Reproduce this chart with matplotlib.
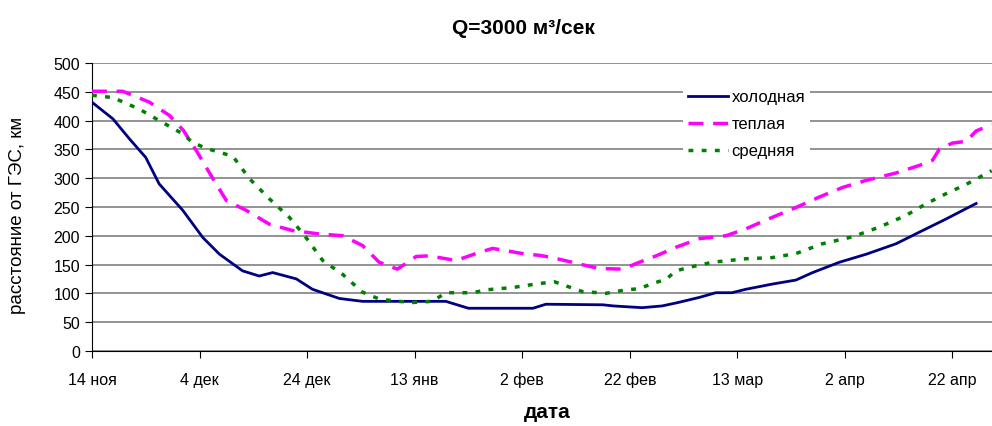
import numpy as np
import matplotlib
matplotlib.use("Agg")
import matplotlib.pyplot as plt

plt.rcParams['font.family'] = ['Liberation Sans', 'DejaVu Sans']

# дни от 14 ноября
tick_days = [0, 20, 40, 60, 80, 100, 120, 140, 160]
tick_labels = ["14 ноя", "4 дек", "24 дек", "13 янв", "2 фев", "22 фев", "13 мар", "2 апр", "22 апр"]

cold_days = [0, 3.9, 7, 10, 12.5, 16.9, 20.6, 23.7, 28, 31.1, 33.6, 38, 41, 46, 50.3, 57,
             65.8, 70, 82, 84.4, 95, 97, 102.3, 106, 109, 113, 116, 119, 121.6, 126.5,
             130.9, 134, 139, 144, 149.5, 153.8, 158.8, 161.9, 164.4]
cold_vals = [432, 403, 368, 336, 290, 244, 197, 168, 139, 130, 136, 125, 107, 91, 86, 86,
             86, 74, 74, 81, 80, 78, 75, 78, 84, 93, 101, 101, 107, 116,
             123, 136, 154, 168, 186, 206, 229, 244, 256]

warm_days = [0, 5.7, 10.7, 14.4, 17, 19.4, 22.5, 25, 28.7, 33, 37.3, 42.3, 46.6, 50.3, 53.4,
             56.8, 60.3, 62.7, 67.7, 72, 74.5, 77, 80.7, 83.2, 85.6, 90.6, 94.3, 98.7, 101.8,
             104.9, 108.6, 113, 117.9, 121.6, 126.5, 130.9, 135.2, 139.6, 143.9, 149.5, 153.8,
             156.3, 157.6, 160, 162.6, 164.4, 167.3]
warm_vals = [451, 451, 432, 409, 383, 348, 299, 261, 244, 220, 209, 203, 200, 183, 154,
             142, 164, 165, 157, 171, 178, 174, 168, 166, 162, 151, 143, 142, 154,
             165, 180, 195, 200, 212, 232, 249, 267, 284, 296, 309, 322,
             331, 351, 361, 364, 382, 393]

mid_days = [0, 3.9, 8.8, 12.5, 16.9, 18.7, 21.2, 26.2, 29.3, 33, 36.7, 39.8, 42.9, 46.6, 50.3,
            53.4, 57, 59.6, 63.3, 65.8, 70.8, 73.3, 78.2, 83.2, 86, 88.1, 91.2, 95.6, 99.3,
            101.8, 104.2, 106.7, 108.6, 111, 115.4, 121.6, 126.5, 130.9, 135.8, 141.4, 146.4,
            151.3, 155, 158.8, 162.5, 167.3]
mid_vals = [444, 440, 420, 400, 377, 362, 352, 338, 299, 264, 232, 197, 157, 133, 102,
            90, 86, 84, 86, 101, 101, 106, 110, 117, 120, 113, 103, 100, 106,
            108, 117, 124, 139, 145, 154, 160, 162, 169, 186, 198, 215,
            235, 255, 273, 289, 313]

fig = plt.figure(figsize=(9.92, 4.27), dpi=100)
ax = fig.add_axes([0.0927, 0.176, 0.907, 0.674])

ax.plot(cold_days, cold_vals, color='#000080', lw=2.0, label='холодная', zorder=3)
ax.plot(warm_days, warm_vals, color='#FF00FF', lw=2.5, dashes=(4.3, 2.8), label='теплая', zorder=3)
ax.plot(mid_days, mid_vals, color='#008000', lw=2.5, dashes=(1.4, 2.4), label='средняя', zorder=3)

ax.set_xlim(0, 167.3)
ax.set_ylim(0, 500)
ax.set_yticks(np.arange(0, 501, 50))
ax.set_xticks(tick_days)
ax.set_xticklabels(tick_labels)
ax.yaxis.grid(True, color='#808080', lw=1.2)
ax.set_axisbelow(True)
for s in ['top', 'right']:
    ax.spines[s].set_visible(False)
ax.tick_params(axis='both', labelsize=11.5, length=5, direction='out')
ax.tick_params(axis='x', pad=10)

fig.text(523 / 992, 1 - 28 / 427, 'Q=3000 м³/сек', fontsize=15, fontweight='bold',
         ha='center', va='center')
fig.text(547 / 992, 1 - 413 / 427, 'дата', fontsize=15, fontweight='bold',
         ha='center', va='center')
fig.text(18 / 992, 1 - 215 / 427, 'расстояние от ГЭС, км', fontsize=13.5, rotation=90,
         ha='center', va='center')

leg = ax.legend(loc='upper left', bbox_to_anchor=(0.648, 0.955), frameon=True, fontsize=12,
                handlelength=2.4, handletextpad=0.2, labelspacing=0.72, borderpad=0.3)
leg.get_frame().set_edgecolor('none')
leg.get_frame().set_facecolor('white')
leg.get_frame().set_alpha(1)

fig.savefig('out.png', dpi=100)
